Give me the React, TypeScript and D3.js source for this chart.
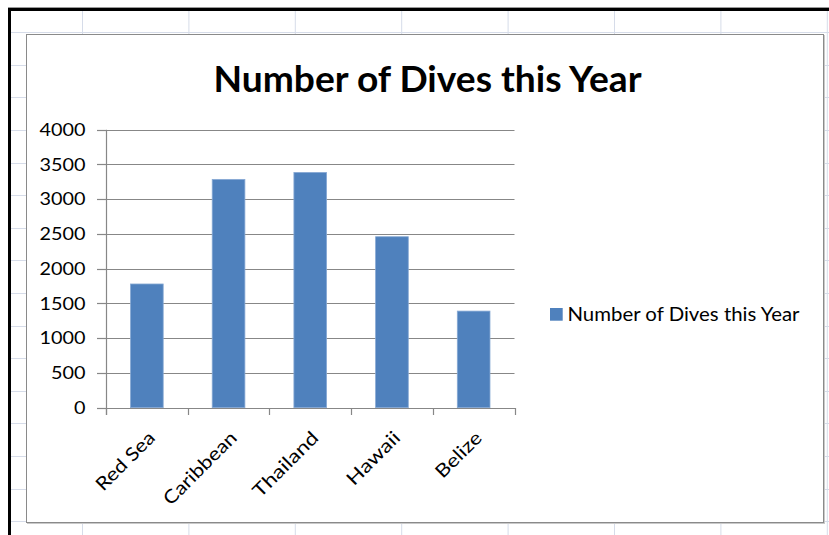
import React from "react";
import * as d3 from "d3";

const categories = ["Red Sea", "Caribbean", "Thailand", "Hawaii", "Belize"];
const dives = [1780, 3285, 3385, 2460, 1390];
const yTicks = [0, 500, 1000, 1500, 2000, 2500, 3000, 3500, 4000];
const labelLengths = [75, 95, 84, 67, 57];
const title = "Number of Dives this Year";
const seriesName = "Number of Dives this Year";

const W = 829;
const H = 535;
const FONT = "Lato, Carlito, Calibri, 'Open Sans', sans-serif";

export default function App() {
  const x = d3
    .scaleBand<string>()
    .domain(categories)
    .range([106, 514.5])
    .paddingInner(0.6)
    .paddingOuter(0.3);
  const step = x.step();
  const y = d3.scaleLinear().domain([0, 4000]).range([407.7, 129.7]);

  const colXs = d3.range(8).map((i) => 82 + 106.4 * i);
  const rowYs = d3.range(17).map((i) => 32.2 + 32.6 * i);

  const axisColor = "#878787";
  const barColor = "#4f81bd";

  return (
    <svg
      width={W}
      height={H}
      style={{ position: "absolute", left: 0, top: 0, display: "block", background: "#fff" }}
      fontFamily={FONT}
    >
      {/* spreadsheet background grid */}
      <rect x={0} y={0} width={W} height={H} fill="#fff" />
      {colXs.map((cx, i) => (
        <line key={"c" + i} x1={cx + 0.5} x2={cx + 0.5} y1={10} y2={H} stroke="#d6dce9" strokeWidth={1} />
      ))}
      {rowYs.map((ry, i) => (
        <line key={"r" + i} x1={10} x2={W} y1={Math.round(ry) + 0.5} y2={Math.round(ry) + 0.5} stroke="#d6dce9" strokeWidth={1} />
      ))}
      {/* black frame */}
      <line x1={8} x2={W} y1={9.5} y2={9.5} stroke="#000" strokeWidth={3} />
      <line x1={9.5} x2={9.5} y1={8} y2={H} stroke="#000" strokeWidth={3} />
      <line x1={8} x2={W} y1={7.5} y2={7.5} stroke="#9a9a9a" strokeWidth={1} />

      {/* chart area */}
      <rect x={27.5} y={35.5} width={797} height={488} fill="none" stroke="#c9c9c9" strokeWidth={1} />
      <rect x={26.5} y={34.5} width={797} height={488} fill="#fff" stroke="#8a8a8a" strokeWidth={1} />

      {/* title */}
      <text
        x={427.5}
        y={91.7}
        textAnchor="middle"
        fontWeight="bold"
        fontSize={36}
        fill="#000"
        textLength={428}
        lengthAdjust="spacingAndGlyphs"
      >
        {title}
      </text>

      {/* gridlines */}
      {yTicks
        .filter((t) => t > 0)
        .map((t) => (
          <line key={"g" + t} x1={106} x2={514.5} y1={Math.round(y(t)) + 0.5} y2={Math.round(y(t)) + 0.5} stroke={axisColor} strokeWidth={1.2} />
        ))}

      {/* y axis */}
      <line x1={106.5} x2={106.5} y1={y(4000)} y2={415} stroke={axisColor} strokeWidth={1.2} />
      {yTicks.map((t) => (
        <g key={"yt" + t}>
          <line x1={97} x2={106} y1={Math.round(y(t)) + 0.5} y2={Math.round(y(t)) + 0.5} stroke={axisColor} strokeWidth={1.2} />
          <text
            x={85.5}
            y={y(t)}
            dy="0.37em"
            textAnchor="end"
            fontSize={17}
            fill="#000"
            textLength={11.5 * String(t).length}
            lengthAdjust="spacingAndGlyphs"
          >
            {t}
          </text>
        </g>
      ))}

      {/* bars */}
      {categories.map((c, i) => (
        <rect
          key={"b" + c}
          x={x(c)}
          y={y(dives[i])}
          width={x.bandwidth()}
          height={y(0) - y(dives[i])}
          fill={barColor}
          stroke="#87a9d4"
          strokeWidth={0.8}
        />
      ))}

      {/* x axis */}
      <line x1={106} x2={515} y1={408.5} y2={408.5} stroke={axisColor} strokeWidth={1.2} />
      {d3.range(categories.length + 1).map((i) => (
        <line
          key={"xt" + i}
          x1={Math.round(106 + i * step) + 0.5}
          x2={Math.round(106 + i * step) + 0.5}
          y1={408}
          y2={415}
          stroke={axisColor}
          strokeWidth={1.2}
        />
      ))}
      {categories.map((c, i) => {
        const cx = (x(c) as number) + x.bandwidth() / 2;
        return (
          <text
            key={"xl" + c}
            transform={`translate(${cx + 9.5},439) rotate(-45)`}
            textAnchor="end"
            fontSize={18.5}
            fill="#000"
            textLength={labelLengths[i]}
            lengthAdjust="spacingAndGlyphs"
          >
            {c}
          </text>
        );
      })}

      {/* legend */}
      <rect x={550} y={308} width={12.7} height={12.7} fill={barColor} />
      <text
        x={567.5}
        y={320.7}
        fontSize={18.5}
        fill="#000"
        textLength={232}
        lengthAdjust="spacingAndGlyphs"
      >
        {seriesName}
      </text>
    </svg>
  );
}
